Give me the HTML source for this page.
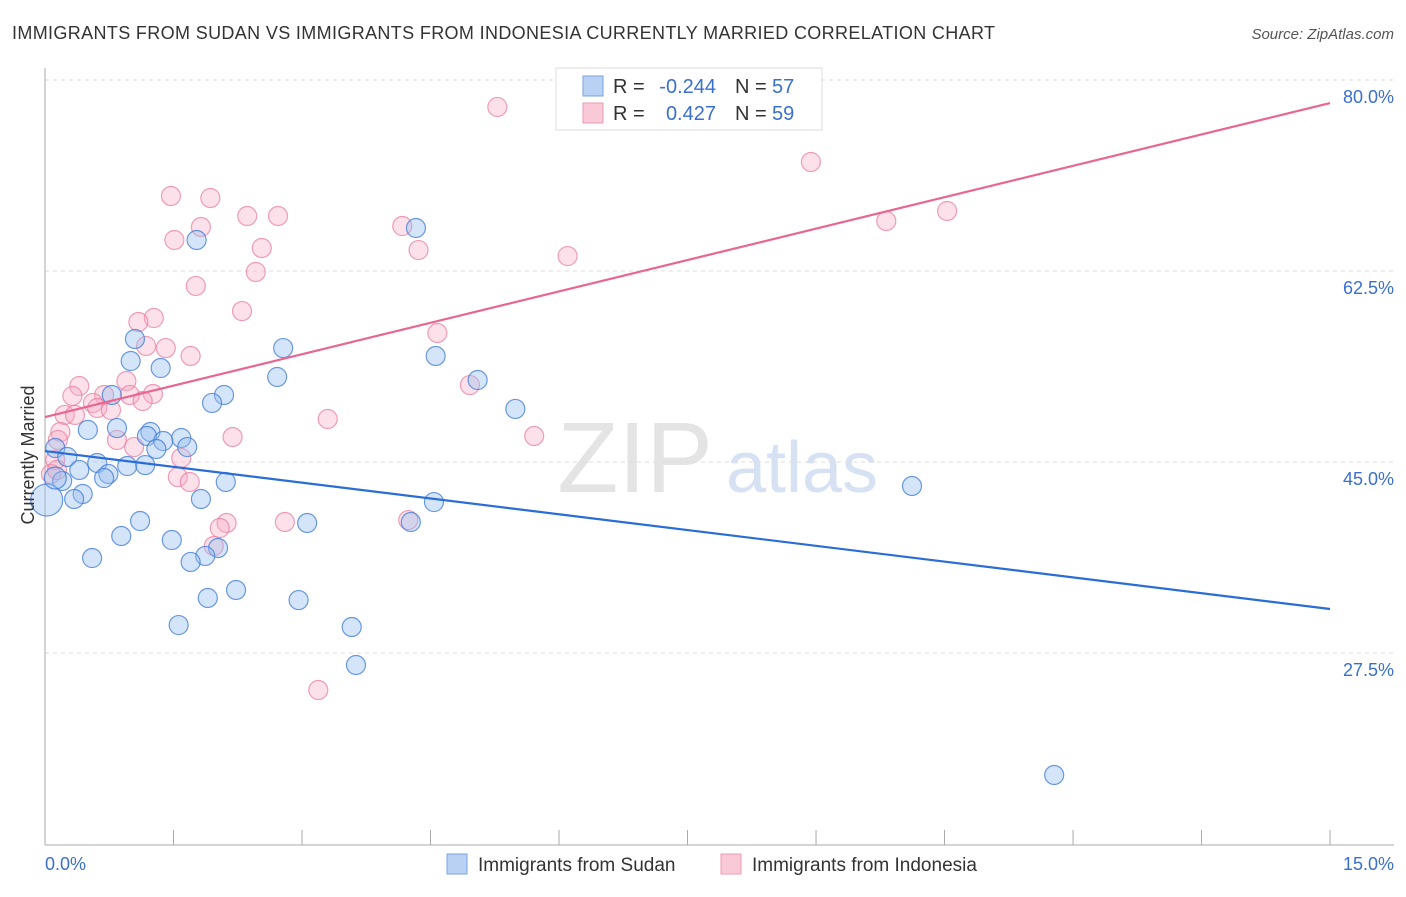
<!DOCTYPE html>
<html><head><meta charset="utf-8"><style>
body{margin:0;background:#fff;font-family:"Liberation Sans",sans-serif;}
svg text{font-family:"Liberation Sans",sans-serif;}
</style></head><body>
<svg id="c" width="1406" height="892">
<text x="12" y="39" font-size="18" fill="#333" textLength="983">IMMIGRANTS FROM SUDAN VS IMMIGRANTS FROM INDONESIA CURRENTLY MARRIED CORRELATION CHART</text>
<text x="1394" y="39" font-size="15" fill="#555" font-style="italic" text-anchor="end">Source: ZipAtlas.com</text>
<text x="635" y="492" font-size="100" fill="#e4e4e4" font-family="Liberation Serif" text-anchor="middle">ZIP</text>
<text x="802" y="492" font-size="72" fill="#d6e2f3" text-anchor="middle">atlas</text>
<g id="grid"></g><g id="pts"></g><g id="lines"></g>
<text x="34" y="455" font-size="18" fill="#333" text-anchor="middle" transform="rotate(-90 34 455)">Currently Married</text>
<text x="45" y="870" font-size="18" fill="#3a6fd0">0.0%</text>
<text x="1394" y="870" font-size="18" fill="#3a6fd0" text-anchor="end">15.0%</text>
<g>
<rect x="556" y="68" width="266" height="62" fill="#fff" stroke="#ddd"/>
<rect x="583" y="76" width="20" height="20" fill="#b9d1f3" stroke="#7aa3e0"/>
<rect x="583" y="103" width="20" height="20" fill="#f9c9d7" stroke="#ee9ab3"/>
<text x="613" y="93" font-size="20" fill="#333">R =</text>
<text x="716" y="93" font-size="20" fill="#3a6fd0" text-anchor="end">-0.244</text>
<text x="735" y="93" font-size="20" fill="#333">N =</text>
<text x="772" y="93" font-size="20" fill="#3a6fd0">57</text>
<text x="613" y="120" font-size="20" fill="#333">R =</text>
<text x="716" y="120" font-size="20" fill="#3a6fd0" text-anchor="end">0.427</text>
<text x="735" y="120" font-size="20" fill="#333">N =</text>
<text x="772" y="120" font-size="20" fill="#3a6fd0">59</text>
</g>
<g>
<rect x="447" y="854" width="20" height="20" fill="#b9d1f3" stroke="#7aa3e0"/>
<text x="478" y="871" font-size="19" fill="#333">Immigrants from Sudan</text>
<rect x="721" y="854" width="20" height="20" fill="#f9c9d7" stroke="#ee9ab3"/>
<text x="752" y="871" font-size="19" fill="#333">Immigrants from Indonesia</text>
</g>
</svg>
<script>
const yTicks=[80,62.5,45,27.5];
const yTickLabels=["80.0%","62.5%","45.0%","27.5%"];
const xTicks=[0,1.5,3,4.5,6,7.5,9,10.5,12,13.5,15];
const sudanX=[1.77,4.33,1.05,2.78,4.56,1.0,1.35,2.71,5.05,0.78,2.09,1.95,5.49,0.5,0.84,1.23,1.19,1.59,1.38,1.66,1.30,0.12,0.26,0.61,0.96,1.17,0.40,0.74,0.69,2.11,0.20,10.12,0.44,0.34,1.82,4.54,1.11,3.06,4.27,0.89,1.48,2.02,1.87,1.70,0.55,2.23,1.90,2.96,1.56,3.58,3.63,11.78,0.02,0.12];
const sudanY=[65.34,66.44,56.27,55.44,54.71,54.25,53.61,52.79,52.51,51.14,51.14,50.41,49.86,47.94,48.11,47.75,47.38,47.20,46.92,46.37,46.19,46.28,45.46,44.91,44.63,44.72,44.27,43.90,43.53,43.17,43.26,42.80,42.07,41.61,41.61,41.33,39.59,39.41,39.50,38.22,37.85,37.12,36.39,35.84,36.20,33.27,32.54,32.35,30.06,29.88,26.40,16.32,41.52,43.53];
const sudanR=[9.5,9.5,9.5,9.5,9.5,9.5,9.5,9.5,9.5,9.5,9.5,9.5,9.5,9.5,9.5,9.5,9.5,9.5,9.5,9.5,9.5,9.5,9.5,9.5,9.5,9.5,9.5,9.5,9.5,9.5,9.5,9.5,9.5,9.5,9.5,9.5,9.5,9.5,9.5,9.5,9.5,9.5,9.5,9.5,9.5,9.5,9.5,9.5,9.5,9.5,9.5,9.5,16,11];
const indoX=[5.28,8.94,1.47,1.93,9.82,10.53,1.82,2.36,2.72,4.17,1.51,4.36,2.53,6.10,2.46,1.76,2.30,1.27,1.09,4.58,1.18,1.41,1.70,0.95,4.96,0.40,0.32,1.26,0.99,0.69,0.56,1.14,0.61,0.77,0.23,0.35,3.30,0.18,5.71,2.19,0.84,0.15,1.04,1.59,0.12,1.55,1.69,0.07,0.14,2.80,4.24,2.12,2.04,1.97,3.19];
const indoY=[77.53,72.49,69.37,69.19,67.08,68.0,66.53,67.54,67.54,66.62,65.34,64.42,64.61,63.87,62.41,61.13,58.83,58.19,57.83,56.82,55.63,55.44,54.71,52.42,52.05,51.96,51.05,51.23,51.14,51.14,50.41,50.59,49.95,49.76,49.31,49.31,48.94,47.75,47.38,47.29,47.02,47.02,46.37,45.37,45.18,43.62,43.17,43.90,44.27,39.50,39.68,39.41,38.95,37.30,24.11];
const blueLineX=[0,15],blueLineY=[46.0,31.53];
const pinkLineX=[0,15],pinkLineY=[49.12,77.89];
const NS="http://www.w3.org/2000/svg";
const sx=v=>45+v*85.67, sy=v=>80+(80-v)*10.914;
function mk(t,a,p){const e=document.createElementNS(NS,t);for(const k in a)e.setAttribute(k,a[k]);p.appendChild(e);return e;}
const g=document.getElementById('grid'),P=document.getElementById('pts'),L=document.getElementById('lines');
yTicks.forEach((v,i)=>{
 const l=mk('line',{x1:45,x2:1394,y1:sy(v),y2:sy(v),stroke:'#ddd','stroke-dasharray':'4,4'},g);
 
 
 const t=mk('text',{x:1394,y:sy(v)+23,'font-size':18,fill:'#3a6fd0','text-anchor':'end'},g);t.textContent=yTickLabels[i];
 
 
});
const ax=mk('line',{x1:45,x2:45,y1:68,y2:845,stroke:'#aaa'},g);


const bx=mk('line',{x1:45,x2:1394,y1:845,y2:845,stroke:'#aaa'},g);


xTicks.forEach(v=>{const t=mk('line',{x1:sx(v),x2:sx(v),y1:830,y2:845,stroke:'#aaa'},g);
 
 });
indoX.forEach((x,i)=>{const c=mk('circle',{cx:sx(x),cy:sy(indoY[i]),r:9.5,fill:'rgba(246,170,195,0.35)',stroke:'rgba(232,120,155,0.7)','stroke-width':1.2},P);
 
 });
sudanX.forEach((x,i)=>{const c=mk('circle',{cx:sx(x),cy:sy(sudanY[i]),r:sudanR[i],fill:'rgba(150,190,240,0.4)',stroke:'rgba(60,120,215,0.75)','stroke-width':1.2},P);
 
 });
const bl=mk('line',{x1:sx(blueLineX[0]),y1:sy(blueLineY[0]),x2:sx(blueLineX[1]),y2:sy(blueLineY[1]),stroke:'#2a6dd6','stroke-width':2.2},L);


const pl=mk('line',{x1:sx(pinkLineX[0]),y1:sy(pinkLineY[0]),x2:sx(pinkLineX[1]),y2:sy(pinkLineY[1]),stroke:'#e8668f','stroke-width':2.2},L);


</script>
</body></html>
